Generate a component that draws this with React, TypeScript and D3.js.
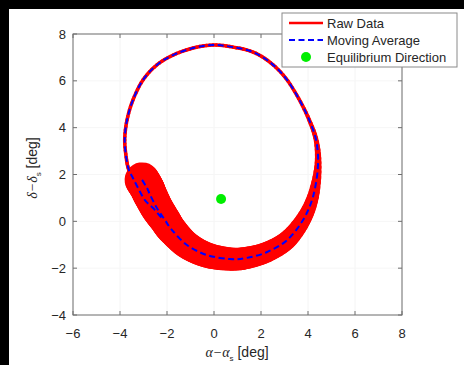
import React from "react";
import * as d3 from "d3";

// moving average trajectory (deg)
const avgX = [
  -3.06, -2.85, -2.72, -2.43, -2.09, -1.79, -1.15, -0.3, 0.68, 1.4, 2.26, 3.11, 3.79, 4.21, 4.42,
  4.36, 4.05, 3.6, 3.05, 2.4, 1.66, 0.81, -0.04, -0.89, -1.74, -2.43, -3.02, -3.45, -3.7, -3.8,
  -3.72, -3.62, -3.45, -3.23, -2.94, -2.51, -2.17,
];
const avgY = [
  1.77, 1.42, 1.13, 0.57, 0.06, -0.37, -1.01, -1.44, -1.61, -1.56, -1.31, -0.8, 0.06, 1.04, 2.3,
  3.4, 4.33, 5.25, 6.12, 6.78, 7.23, 7.44, 7.53, 7.4, 7.1, 6.68, 6.04, 5.18, 4.33, 3.47,
  2.62, 2.19, 1.85, 1.42, 0.91, 0.48, 0.06,
];
// spread of the raw (noisy) data around the average, in deg
const rawSpread = [
  1.49, 1.47, 1.45, 1.4, 1.33, 1.28, 1.18, 1.08, 0.98, 0.94, 0.88, 0.8, 0.66, 0.5, 0.3,
  0.21, 0.17, 0.15, 0.15, 0.15, 0.15, 0.15, 0.15, 0.15, 0.15, 0.15, 0.15, 0.15, 0.15, 0.15,
  0.15, 0.15, 0.15, 0.15, 0.15, 0.15, 0.15,
];
const eqX = 0.3;
const eqY = 0.95;

const xTicks = [-6, -4, -2, 0, 2, 4, 6, 8];
const yTicks = [-4, -2, 0, 2, 4, 6, 8];
const legendItems = ["Raw Data", "Moving Average", "Equilibrium Direction"];

const W = 464;
const H = 365;
const left = 73, right = 402, top = 34, bottom = 315;
const font = "'Liberation Sans', Arial, sans-serif";

// uniform Catmull-Rom point between p1 and p2 (same curve as d3.curveCardinal.tension(0))
function cr(p0: number[], p1: number[], p2: number[], p3: number[], t: number) {
  const t2 = t * t, t3 = t2 * t;
  return [0, 1].map(
    (k) =>
      0.5 *
      (2 * p1[k] +
        (-p0[k] + p2[k]) * t +
        (2 * p0[k] - 5 * p1[k] + 4 * p2[k] - p3[k]) * t2 +
        (-p0[k] + 3 * p1[k] - 3 * p2[k] + p3[k]) * t3)
  );
}

export default function App() {
  const x = d3.scaleLinear().domain([-6, 8]).range([left, right]);
  const y = d3.scaleLinear().domain([-4, 8]).range([bottom, top]);
  const pxPerDeg = x(1) - x(0);

  const pts: [number, number][] = avgX.map((v, i) => [x(v), y(avgY[i])]);
  const path = d3.line().curve(d3.curveCardinal.tension(0))(pts) || "";

  // raw data drawn as a stroke whose width follows the spread
  const n = pts.length;
  const segs: { a: number[]; b: number[]; w: number }[] = [];
  const steps = 6;
  for (let i = 0; i < n - 1; i++) {
    const p0 = pts[Math.max(0, i - 1)], p1 = pts[i], p2 = pts[i + 1], p3 = pts[Math.min(n - 1, i + 2)];
    for (let s = 0; s < steps; s++) {
      const t0 = s / steps, t1 = (s + 1) / steps;
      const w0 = rawSpread[i] + (rawSpread[i + 1] - rawSpread[i]) * ((t0 + t1) / 2);
      segs.push({ a: cr(p0, p1, p2, p3, t0), b: cr(p0, p1, p2, p3, t1), w: Math.max(3.5, w0 * pxPerDeg) });
    }
  }

  const fmt = (t: number) => (t < 0 ? "\u2212" + Math.abs(t) : String(t));

  return (
    <svg
      width={W}
      height={H}
      style={{ position: "absolute", left: 0, top: 0, background: "#fff" }}
      fontFamily={font}
    >
      <rect x={0} y={0} width={W} height={H} fill="#fff" />
      {/* dark border strips of the screenshot */}
      <rect x={0} y={0} width={W} height={9} fill="#000" />
      <rect x={0} y={0} width={9} height={H} fill="#000" />

      {/* faint grid */}
      {xTicks.map((t) => (
        <line key={"gx" + t} x1={x(t)} x2={x(t)} y1={top} y2={bottom} stroke="#f4f4f4" />
      ))}
      {yTicks.map((t) => (
        <line key={"gy" + t} x1={left} x2={right} y1={y(t)} y2={y(t)} stroke="#f6f6f6" />
      ))}

      {/* raw data band */}
      <g stroke="#ff0000" strokeLinecap="round" fill="none">
        {segs.map((s, i) => (
          <line key={i} x1={s.a[0]} y1={s.a[1]} x2={s.b[0]} y2={s.b[1]} strokeWidth={s.w} />
        ))}
      </g>

      {/* moving average */}
      <path d={path} fill="none" stroke="#0000ff" strokeWidth={2} strokeDasharray="6,3.5" />

      {/* equilibrium */}
      <circle cx={x(eqX)} cy={y(eqY)} r={5} fill="#00ee00" />

      {/* axes box */}
      <rect x={left} y={top} width={right - left} height={bottom - top} fill="none" stroke="#6e6e6e" />
      {xTicks.map((t) => (
        <g key={"tx" + t} stroke="#6e6e6e">
          <line x1={x(t)} x2={x(t)} y1={bottom} y2={bottom - 4} />
          <line x1={x(t)} x2={x(t)} y1={top} y2={top + 4} />
        </g>
      ))}
      {yTicks.map((t) => (
        <g key={"ty" + t} stroke="#6e6e6e">
          <line x1={left} x2={left + 4} y1={y(t)} y2={y(t)} />
          <line x1={right} x2={right - 4} y1={y(t)} y2={y(t)} />
        </g>
      ))}
      {xTicks.map((t) => (
        <text key={"lx" + t} x={x(t)} y={338} textAnchor="middle" fontSize={13} fill="#262626">
          {fmt(t)}
        </text>
      ))}
      {yTicks.map((t) => (
        <text key={"ly" + t} x={66} y={y(t) + 4.5} textAnchor="end" fontSize={13} fill="#262626">
          {fmt(t)}
        </text>
      ))}

      {/* axis labels */}
      <text x={237} y={357} textAnchor="middle" fontSize={14} fill="#262626">
        <tspan fontFamily="'Liberation Serif', serif" fontStyle="italic">{"\u03b1\u2212\u03b1"}</tspan>
        <tspan fontSize={8} dy={4}>s</tspan>
        <tspan dy={-4}> [deg]</tspan>
      </text>
      <text transform="translate(37,168) rotate(-90)" textAnchor="middle" fontSize={14} fill="#262626">
        <tspan fontFamily="'Liberation Serif', serif" fontStyle="italic">{"\u03b4\u2212\u03b4"}</tspan>
        <tspan fontSize={8} dy={4}>s</tspan>
        <tspan dy={-4}> [deg]</tspan>
      </text>

      {/* legend */}
      <rect x={282} y={13} width={175} height={54} fill="#fff" stroke="#8a8a8a" />
      <line x1={289} x2={323} y1={23} y2={23} stroke="#ff0000" strokeWidth={2.5} />
      <line x1={289} x2={323} y1={40} y2={40} stroke="#0000ff" strokeWidth={2} strokeDasharray="6,3.5" />
      <circle cx={306} cy={57} r={5} fill="#00ee00" />
      {legendItems.map((d, i) => (
        <text key={d} x={327} y={27.5 + i * 17} fontSize={13} fill="#262626">
          {d}
        </text>
      ))}
    </svg>
  );
}
